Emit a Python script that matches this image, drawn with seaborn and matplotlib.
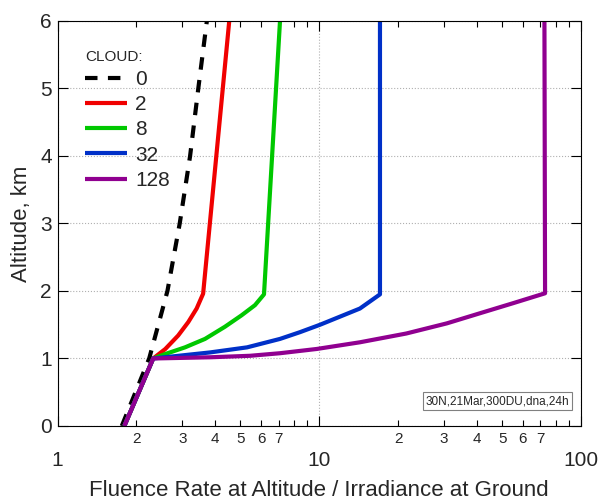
import numpy as np
import pandas as pd
import matplotlib
matplotlib.use("Agg")
import matplotlib.pyplot as plt
import seaborn as sns
from matplotlib.ticker import FixedLocator, FuncFormatter, LogLocator

sns.set_theme(style="ticks")
plt.rcParams["font.family"] = ["Liberation Sans", "DejaVu Sans"]

# ---- data ----
cloud_labels = ["0", "2", "8", "32", "128"]

alt_c0 = [0, 1, 2, 3, 4, 5, 6]
ratio_c0 = [1.76, 2.24, 2.63, 2.93, 3.21, 3.45, 3.72]

alt_c2 = [0, 1, 1.14, 1.34, 1.54, 1.74, 1.96, 6]
ratio_c2 = [1.80, 2.32, 2.58, 2.89, 3.16, 3.40, 3.60, 4.53]

alt_c8 = [0, 1, 1.066, 1.165, 1.29, 1.47, 1.64, 1.79, 1.95, 6]
ratio_c8 = [1.80, 2.32, 2.58, 3.07, 3.66, 4.36, 5.05, 5.68, 6.15, 7.08]

alt_c32 = [0, 1, 1.09, 1.165, 1.29, 1.39, 1.50, 1.62, 1.74, 1.95, 6]
ratio_c32 = [1.80, 2.32, 3.83, 5.30, 7.08, 8.44, 10.07, 12.0, 14.3, 17.06, 17.06]

alt_c128 = [0, 1, 1.018, 1.04, 1.078, 1.141, 1.24, 1.37, 1.52, 1.67, 1.82, 1.966, 6]
ratio_c128 = [1.80, 2.32, 3.83, 5.44, 7.08, 9.78, 14.3, 21.5, 30.7, 41.1, 55.1, 72.9, 72.5]

series_alt = [alt_c0, alt_c2, alt_c8, alt_c32, alt_c128]
series_ratio = [ratio_c0, ratio_c2, ratio_c8, ratio_c32, ratio_c128]

colors = ["black", "#f00000", "#00c800", "#0030c8", "#900090"]

x_major = [1, 10, 100]
y_ticks = [0, 1, 2, 3, 4, 5, 6]
note = "30N,21Mar,300DU,dna,24h"

# ---- figure ----
fig = plt.figure(figsize=(6.03, 5.03), dpi=100)
ax = fig.add_axes([0.0954, 0.1531, 0.8681, 0.8052])

handles = []
for lab, a, r, c in zip(cloud_labels, series_alt, series_ratio, colors):
    df = pd.DataFrame({"ratio": r, "alt": a})
    kws = dict(color=c, lw=3, solid_capstyle="butt", solid_joinstyle="round")
    if lab == "0":
        kws["linestyle"] = (0, (3.0, 2.5))
        kws["dash_capstyle"] = "butt"
    sns.lineplot(data=df, x="ratio", y="alt", ax=ax, sort=False,
                 estimator=None, legend=False, **kws)
    handles.append(ax.lines[-1])

ax.set_xscale("log")
ax.set_xlim(1, 100)
ax.set_ylim(0, 6)

ax.xaxis.set_major_locator(FixedLocator(x_major))
ax.xaxis.set_major_formatter(FuncFormatter(lambda v, p: f"{v:g}"))
ax.xaxis.set_minor_locator(LogLocator(base=10, subs=np.arange(2, 10)))


def minor_fmt(v, p):
    d = int(round(v / 10 ** np.floor(np.log10(v) + 1e-9)))
    return str(d) if 2 <= d <= 7 else ""


ax.xaxis.set_minor_formatter(FuncFormatter(minor_fmt))
ax.yaxis.set_major_locator(FixedLocator(y_ticks))

ax.tick_params(which="both", direction="in", top=True, right=True,
               color="black", width=0.8)
ax.tick_params(which="major", length=7)
ax.tick_params(which="minor", length=4)
ax.tick_params(axis="x", which="major", labelsize=15, pad=18)
ax.tick_params(axis="x", which="minor", labelsize=11, pad=4)
ax.tick_params(axis="y", which="major", labelsize=15, pad=4)
ax.tick_params(axis="y", which="minor", left=False, right=False)

for s in ax.spines.values():
    s.set_color("black")
    s.set_linewidth(0.8)

ax.grid(which="major", linestyle=":", color="#b0b0b0", linewidth=0.8)
ax.set_axisbelow(True)

ax.set_xlabel("Fluence Rate at Altitude / Irradiance at Ground", fontsize=16, labelpad=7)
ax.set_ylabel("Altitude, km", fontsize=16, labelpad=6)

leg = ax.legend(handles, cloud_labels, title="CLOUD:", loc="upper left",
                bbox_to_anchor=(0.037, 0.95), frameon=False, fontsize=15,
                title_fontsize=11, handlelength=2.0, handletextpad=0.4,
                labelspacing=0.3, alignment="left", borderaxespad=0)

ax.text(0.8405, 0.0617, note, transform=ax.transAxes, ha="center", va="center",
        fontsize=8.5,
        bbox=dict(boxstyle="square,pad=0.25", fc="white", ec="#808080", lw=0.8))

fig.savefig("out.png", dpi=100)
